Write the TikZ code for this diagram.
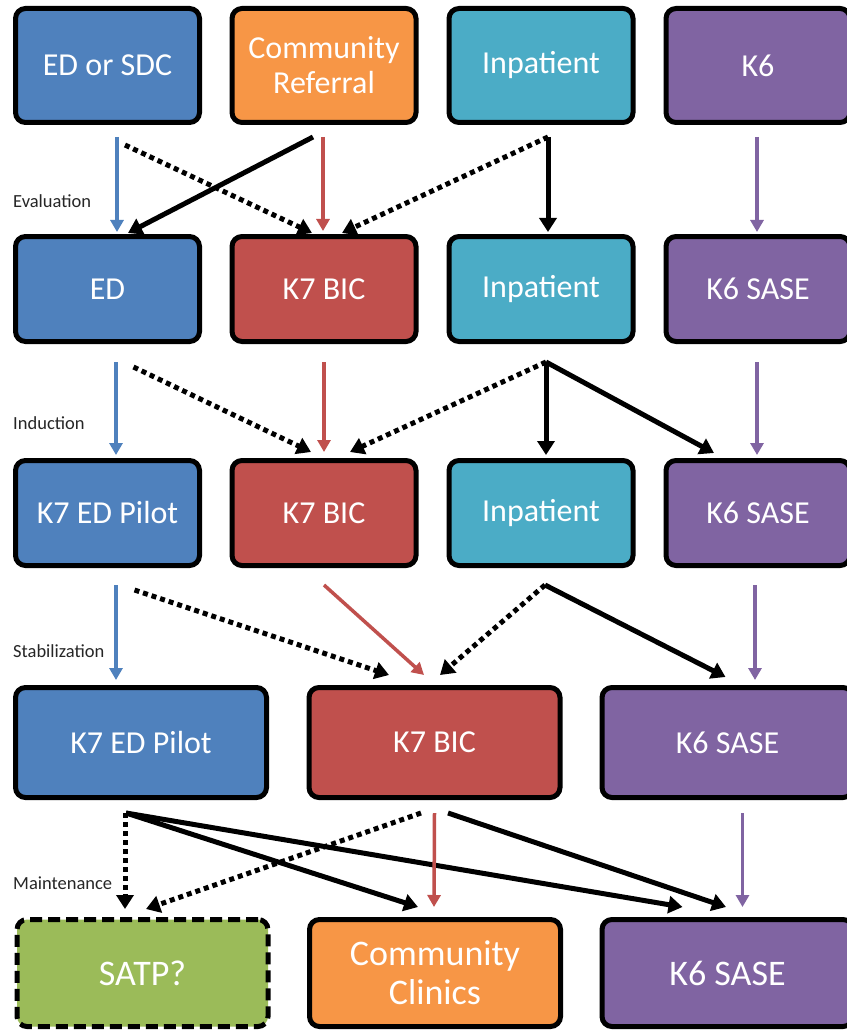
\documentclass[tikz,border=0pt]{standalone}
\usepackage{fontspec}
\newfontfamily\boxfont{Carlito}
\usetikzlibrary{arrows.meta}

\definecolor{cblue}{HTML}{4F81BD}
\definecolor{corange}{HTML}{F79646}
\definecolor{ccyan}{HTML}{4BACC6}
\definecolor{cpurple}{HTML}{8064A2}
\definecolor{cred}{HTML}{C0504D}
\definecolor{cgreen}{HTML}{9BBB59}

\tikzset{
  box/.style={draw=black, line width=5pt, rounded corners=10pt, text=white,
    align=center, inner sep=0pt, font=\boxfont\fontsize{32}{35}\selectfont},
  smallbox/.style={box, minimum width=184pt, minimum height=105pt},
  topbox/.style={smallbox, minimum height=114pt},
  widebox/.style={box, minimum width=251pt, minimum height=110pt},
  lastbox/.style={widebox, minimum height=107pt, font=\boxfont\fontsize{36}{39}\selectfont},
  colarr/.style={line width=3.5pt, -{Triangle[length=12pt,width=13pt]}},
  blackarr/.style={line width=5pt, draw=black, -{Triangle[length=14pt,width=17pt]}},
  dotarr/.style={blackarr, dash pattern=on 5pt off 4pt},
  phase/.style={anchor=west, inner sep=0pt, text=black!85,
    font=\boxfont\fontsize{18.5}{20}\selectfont}
}

\begin{document}
\begin{tikzpicture}[x=1pt,y=-1pt]
\useasboundingbox[fill=white] (0,0) rectangle (846,1032);

% referral sources
\node[topbox, fill=cblue]   (ed0) at (107.5,65.5) {ED or SDC};
\node[topbox, fill=corange] (cr0) at (324,65.5)   {Community\\Referral};
\node[topbox, fill=ccyan]   (in0) at (541,65.5)   {Inpatient};
\node[topbox, fill=cpurple] (k60) at (758,65.5)   {K6};

% evaluation
\node[smallbox, fill=cblue]   (ed1)   at (107.5,289) {ED};
\node[smallbox, fill=cred]    (bic1)  at (324,289)   {K7 BIC};
\node[smallbox, fill=ccyan]   (in1)   at (541,289)   {Inpatient};
\node[smallbox, fill=cpurple] (sase1) at (758,289)   {K6 SASE};

% induction
\node[smallbox, fill=cblue]   (pilot2) at (107.5,513) {K7 ED Pilot};
\node[smallbox, fill=cred]    (bic2)   at (324,513)   {K7 BIC};
\node[smallbox, fill=ccyan]   (in2)    at (541,513)   {Inpatient};
\node[smallbox, fill=cpurple] (sase2)  at (758,513)   {K6 SASE};

% stabilization
\node[widebox, fill=cblue]   (pilot3) at (141,742.5)   {K7 ED Pilot};
\node[widebox, fill=cred]    (bic3)   at (434.5,742.5) {K7 BIC};
\node[widebox, fill=cpurple] (sase3)  at (727.5,742.5) {K6 SASE};

% maintenance
\node[lastbox, fill=cgreen, dash pattern=on 12pt off 6pt] (satp) at (142.5,973) {SATP?};
\node[lastbox, fill=corange] (clin)  at (435,973)   {Community\\Clinics};
\node[lastbox, fill=cpurple] (sase4) at (727.5,973) {K6 SASE};

% phase labels
\node[phase] (levl) at (13,201) {Evaluation};
\node[phase] (lind) at (13,423) {Induction};
\node[phase] (lstb) at (13,651) {Stabilization};
\node[phase] (lmnt) at (13,883) {Maintenance};

% sources -> evaluation
\draw[colarr, cblue] ([xshift=9.5pt,yshift=-12pt]ed0.south) -- ([xshift=9.5pt,yshift=2pt]ed1.north);
\draw[dotarr] ([xshift=17.5pt,yshift=-20pt]ed0.south) -- ([xshift=-12pt,yshift=1pt]bic1.north);
\draw[blackarr] ([xshift=-11pt,yshift=-12pt]cr0.south) -- ([xshift=20.5pt,yshift=1pt]ed1.north);
\draw[colarr, cred] ([xshift=-1pt,yshift=-12pt]cr0.south) -- ([xshift=-1pt,yshift=3pt]bic1.north);
\draw[dotarr] ([xshift=7pt,yshift=-12pt]in0.south) -- ([xshift=18pt,yshift=1pt]bic1.north);
\draw[blackarr] ([xshift=7pt,yshift=-12pt]in0.south) -- ([xshift=7pt,yshift=2pt]in1.north);
\draw[colarr, cpurple] ([xshift=-1pt,yshift=-12pt]k60.south) -- ([xshift=-1pt,yshift=2pt]sase1.north);

% evaluation -> induction
\draw[colarr, cblue] ([xshift=8.5pt,yshift=-18pt]ed1.south) -- ([xshift=8.5pt,yshift=3pt]pilot2.north);
\draw[dotarr] ([xshift=26pt,yshift=-23pt]ed1.south) -- ([xshift=-13pt,yshift=6pt]bic2.north);
\draw[colarr, cred] ([yshift=-18pt]bic1.south) -- ([yshift=6pt]bic2.north);
\draw[dotarr] ([xshift=5pt,yshift=-18pt]in1.south) -- ([xshift=26pt,yshift=6pt]bic2.north);
\draw[blackarr] ([xshift=5pt,yshift=-18pt]in1.south) -- ([xshift=5pt,yshift=3pt]in2.north);
\draw[blackarr] ([xshift=5pt,yshift=-18pt]in1.south) -- ([xshift=-44pt,yshift=5pt]sase2.north);
\draw[colarr, cpurple] ([xshift=-1pt,yshift=-18pt]sase1.south) -- ([xshift=-1pt,yshift=3pt]sase2.north);

% induction -> stabilization
\draw[colarr, cblue] ([xshift=8.5pt,yshift=-17pt]pilot2.south) -- ([xshift=-25pt,yshift=5pt]pilot3.north);
\draw[dotarr] ([xshift=27pt,yshift=-22pt]pilot2.south) -- ([xshift=-45.5pt,yshift=10pt]bic3.north);
\draw[colarr, cred] ([yshift=-17pt]bic2.south) -- ([xshift=-10.5pt,yshift=10pt]bic3.north);
\draw[dotarr] ([xshift=4pt,yshift=-17pt]in2.south) -- ([xshift=5.5pt,yshift=10pt]bic3.north);
\draw[blackarr] ([xshift=4pt,yshift=-17pt]in2.south) -- ([xshift=-2pt,yshift=8pt]sase3.north);
\draw[colarr, cpurple] ([xshift=-3pt,yshift=-17pt]sase2.south) -- ([xshift=27.5pt,yshift=5pt]sase3.north);

% stabilization -> maintenance
\draw[dotarr] ([xshift=-16pt,yshift=-13pt]pilot3.south) -- ([xshift=-17.5pt,yshift=8pt]satp.north);
\draw[blackarr] ([xshift=-15pt,yshift=-13pt]pilot3.south) -- ([xshift=-17pt,yshift=10pt]clin.north);
\draw[blackarr] ([xshift=-15pt,yshift=-13pt]pilot3.south) -- ([xshift=-45pt,yshift=10pt]sase4.north);
\draw[dotarr] ([xshift=-13.5pt,yshift=-13pt]bic3.south) -- ([xshift=3.5pt,yshift=8pt]satp.north);
\draw[colarr, cred] ([yshift=-13pt]bic3.south) -- ([xshift=-1pt,yshift=10pt]clin.north);
\draw[blackarr] ([xshift=13.5pt,yshift=-13pt]bic3.south) -- ([xshift=-1.5pt,yshift=10pt]sase4.north);
\draw[colarr, cpurple] ([xshift=15pt,yshift=-13pt]sase3.south) -- ([xshift=15pt,yshift=10pt]sase4.north);
\end{tikzpicture}
\end{document}
